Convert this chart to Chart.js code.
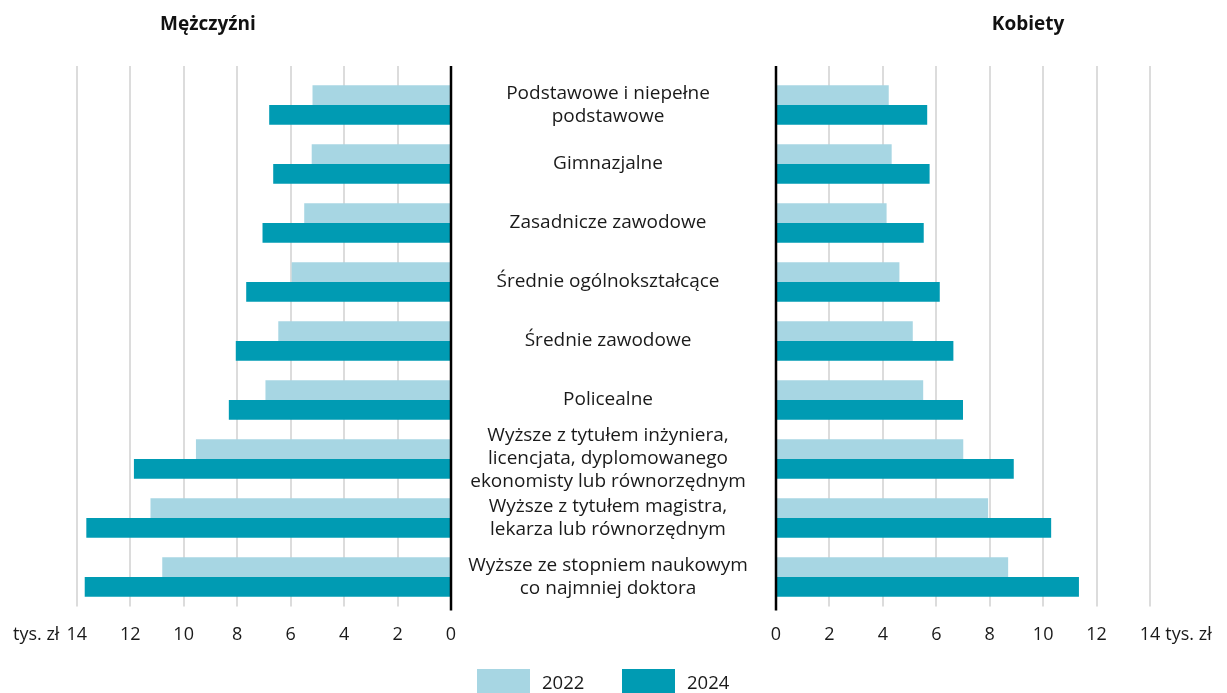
<!DOCTYPE html>
<html><head><meta charset="utf-8">
<script src="https://cdn.jsdelivr.net/npm/chart.js@4.4.1/dist/chart.umd.min.js"></script>
<style>
html,body{margin:0;padding:0;background:#fff;}
#wrap{position:relative;width:1227px;height:693px;overflow:hidden;font-family:"Open Sans",sans-serif;color:#1a1a1a;}
#cl{position:absolute;left:0;top:0;}
#cr{position:absolute;left:452px;top:0;}
.title{position:absolute;top:10px;font-weight:bold;font-size:19px;line-height:26px;color:#111;transform:translateX(-50%);white-space:nowrap;}
.lg-box{position:absolute;top:669px;width:53px;height:30px;}
.lg-txt{position:absolute;top:669px;font-size:18.5px;line-height:25px;white-space:nowrap;}
</style></head>
<body><div id="wrap">
<canvas id="cl" width="490" height="693"></canvas>
<canvas id="cr" width="775" height="693"></canvas>
</div>
<script>
const categories = [
  ['Podstawowe i niepełne', 'podstawowe'],
  'Gimnazjalne',
  'Zasadnicze zawodowe',
  'Średnie ogólnokształcące',
  'Średnie zawodowe',
  'Policealne',
  ['Wyższe z tytułem inżyniera,', 'licencjata, dyplomowanego', 'ekonomisty lub równorzędnym'],
  ['Wyższe z tytułem magistra,', 'lekarza lub równorzędnym'],
  ['Wyższe ze stopniem naukowym', 'co najmniej doktora']
];
const seriesLabels = ['2022', '2024'];
const men2022 = [5.18, 5.21, 5.49, 5.96, 6.46, 6.94, 9.54, 11.24, 10.80];
const men2024 = [6.80, 6.65, 7.05, 7.66, 8.05, 8.31, 11.86, 13.64, 13.70];
const women2022 = [4.22, 4.33, 4.14, 4.62, 5.12, 5.51, 7.01, 7.94, 8.69];
const women2024 = [5.66, 5.75, 5.53, 6.13, 6.64, 7.00, 8.90, 10.30, 11.34];
const xMin = 0, xMax = 14, xStep = 2;
const unitLabel = 'tys. zł';
const panelTitles = ['Mężczyźni', 'Kobiety'];
const colors = ['#a7d6e3', '#009bb3'];

const FONT_FAMILY = '"Open Sans", sans-serif';
const TICK_SIZE = 18;
const CAT_SIZE = 19;
const TEXT_COLOR = '#1a1a1a';

// titles
const wrap = document.getElementById('wrap');
[[panelTitles[0], 208], [panelTitles[1], 1028]].forEach(([t, cx]) => {
  const d = document.createElement('div');
  d.className = 'title'; d.textContent = t; d.style.left = cx + 'px';
  wrap.appendChild(d);
});
// legend
[[477, 542], [622, 687]].forEach(([bx, tx], i) => {
  const b = document.createElement('div');
  b.className = 'lg-box'; b.style.left = bx + 'px'; b.style.background = colors[i];
  wrap.appendChild(b);
  const s = document.createElement('div');
  s.className = 'lg-txt'; s.style.left = tx + 'px'; s.textContent = seriesLabels[i];
  wrap.appendChild(s);
});

const gridPlugin = {
  id: 'customGrid',
  beforeDatasetsDraw(chart) {
    const {ctx, chartArea: {top, bottom}, scales: {x}} = chart;
    ctx.save();
    ctx.strokeStyle = '#dcdcdc'; ctx.lineWidth = 2;
    x.ticks.forEach(t => {
      if (t.value === 0) return;
      const px = Math.round(x.getPixelForValue(t.value));
      ctx.beginPath(); ctx.moveTo(px, top - 9.5); ctx.lineTo(px, bottom); ctx.stroke();
    });
    ctx.restore();
  },
  afterDatasetsDraw(chart) {
    const {ctx, chartArea: {top, bottom}, scales: {x}} = chart;
    const px = Math.round(x.getPixelForValue(0));
    ctx.save();
    ctx.strokeStyle = '#000'; ctx.lineWidth = 2.5;
    ctx.beginPath(); ctx.moveTo(px, top - 9.5); ctx.lineTo(px, bottom + 4); ctx.stroke();
    ctx.restore();
  },
  afterDraw(chart) {
    const {ctx, scales: {x}} = chart;
    const opt = chart.options.plugins.customGrid;
    const font = TICK_SIZE + 'px ' + FONT_FAMILY;
    ctx.save();
    ctx.font = font; ctx.fillStyle = TEXT_COLOR; ctx.textBaseline = 'middle';
    const px = x.getPixelForValue(xMax);
    const w = ctx.measureText(String(xMax)).width;
    const y = x.top + x.options.ticks.padding + TICK_SIZE * 1.2 / 2;
    if (opt.side === 'left') {
      ctx.textAlign = 'right';
      ctx.fillText(unitLabel, px - w / 2 - 7, y);
    } else {
      ctx.textAlign = 'left';
      ctx.fillText(unitLabel, px + w / 2 + 5, y);
    }
    ctx.restore();
  }
};

function datasets(a, b) {
  return [a, b].map((d, i) => ({
    label: seriesLabels[i], data: d, backgroundColor: colors[i], borderWidth: 0,
    categoryPercentage: 0.67, barPercentage: 1.0
  }));
}

function xScale(reverse) {
  return {
    type: 'linear', min: xMin, max: xMax, reverse,
    grid: {display: false, drawTicks: false},
    border: {display: false},
    ticks: {stepSize: xStep, padding: 17.5, color: TEXT_COLOR, font: {family: FONT_FAMILY, size: TICK_SIZE}},
    afterFit: s => { s.height = 50; }
  };
}

// measure widest category line for centering labels
const mc = document.createElement('canvas').getContext('2d');
mc.font = CAT_SIZE + 'px ' + FONT_FAMILY;
let widest = 0;
categories.forEach(c => [].concat(c).forEach(l => { widest = Math.max(widest, mc.measureText(l).width); }));
const labelCenterX = 608, rightAxisX = 776;
const catPadding = rightAxisX - labelCenterX - widest / 2;

const common = {
  type: 'bar',
  plugins: [gridPlugin]
};

new Chart(document.getElementById('cl'), {
  ...common,
  data: {labels: categories, datasets: datasets(men2022, men2024)},
  options: {
    indexAxis: 'y', responsive: false, animation: false, devicePixelRatio: 1,
    layout: {padding: {left: 76.7, right: 39, top: 75.5, bottom: 36.5}},
    plugins: {legend: {display: false}, tooltip: {enabled: false}, customGrid: {side: 'left'}},
    scales: {
      x: xScale(true),
      y: {display: false}
    }
  }
});

new Chart(document.getElementById('cr'), {
  ...common,
  data: {labels: categories, datasets: datasets(women2022, women2024)},
  options: {
    indexAxis: 'y', responsive: false, animation: false, devicePixelRatio: 1,
    layout: {padding: {left: 0, right: 77, top: 75.5, bottom: 36.5}},
    plugins: {legend: {display: false}, tooltip: {enabled: false}, customGrid: {side: 'right'}},
    scales: {
      x: xScale(false),
      y: {
        position: 'left',
        grid: {display: false, drawTicks: false},
        border: {display: false},
        ticks: {
          autoSkip: false,
          crossAlign: 'center', padding: catPadding, color: TEXT_COLOR,
          font: {family: FONT_FAMILY, size: CAT_SIZE, lineHeight: 23 / CAT_SIZE}
        },
        afterFit: s => { s.width = 324; }
      }
    }
  }
});
</script>
</body></html>
